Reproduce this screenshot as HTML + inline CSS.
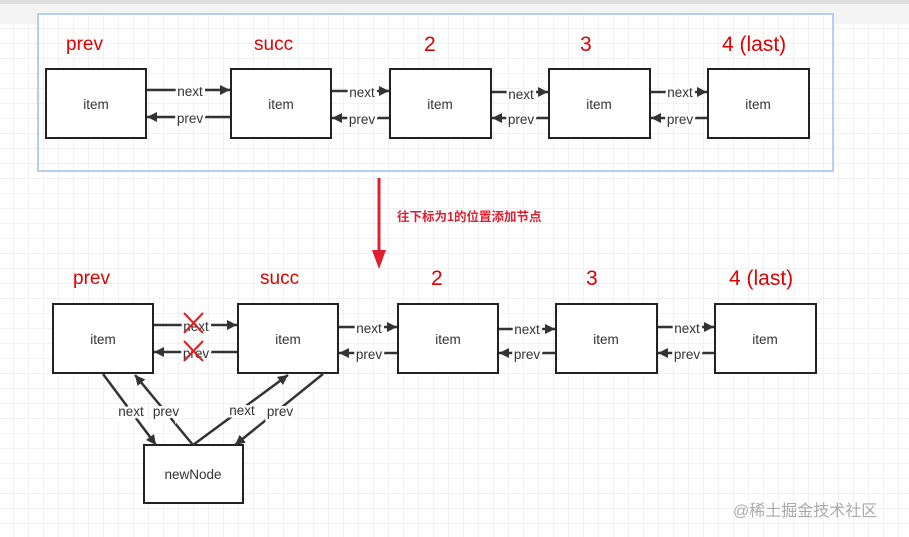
<!DOCTYPE html>
<html><head><meta charset="utf-8"><style>
html,body{margin:0;padding:0;background:#fff;}
svg{display:block;}
text{font-family:"Liberation Sans","Noto Sans CJK SC",sans-serif;}
</style></head><body>
<svg width="909" height="537" viewBox="0 0 909 537" xmlns="http://www.w3.org/2000/svg">
<defs>
<pattern id="g" x="13" y="13" width="15" height="15" patternUnits="userSpaceOnUse">
<path d="M0 0H15M0 0V15" stroke="#e6e6e6" stroke-width="1" fill="none"/>
</pattern>
<marker id="ab" viewBox="0 0 10 10" refX="10" refY="5" markerWidth="12" markerHeight="10" orient="auto" markerUnits="userSpaceOnUse">
<path d="M0 0L10 5L0 10z" fill="#333"/>
</marker>
</defs>
<rect width="909" height="537" fill="#fff"/>
<rect width="909" height="537" fill="url(#g)"/>
<rect x="0" y="0" width="909" height="4" fill="#dcdcdc"/>
<rect x="0" y="4" width="909" height="20" fill="#f3f3f3"/>
<rect x="39" y="15" width="795" height="157" fill="#dbe8fa"/>
<rect x="38" y="14" width="795" height="157" fill="#fff" stroke="#b4cff2" stroke-width="2"/>
<rect x="39" y="15" width="793" height="155" fill="url(#g)"/>

<g fill="#e00000" font-size="19">
<text x="66" y="50">prev</text><text x="254" y="50">succ</text><text x="424" y="51" font-size="21">2</text><text x="580" y="51" font-size="21">3</text><text x="722" y="51" font-size="21">4 (last)</text>
<text x="73" y="284">prev</text><text x="260" y="284">succ</text><text x="431" y="285" font-size="21">2</text><text x="586" y="285" font-size="21">3</text><text x="729" y="285" font-size="21">4 (last)</text>
</g>

<g fill="#fff" stroke="#222" stroke-width="2">
<rect x="46" y="69" width="100" height="69"/><rect x="231" y="69" width="100" height="69"/><rect x="390" y="69" width="101" height="69"/><rect x="549" y="69" width="101" height="69"/><rect x="708" y="69" width="101" height="69"/>
<rect x="53" y="304" width="100" height="69"/><rect x="238" y="304" width="100" height="69"/><rect x="398" y="304" width="100" height="69"/><rect x="556" y="304" width="101" height="69"/><rect x="715" y="304" width="101" height="69"/>
<rect x="144" y="445" width="99" height="58"/>
</g>
<g font-size="13.5" fill="#333" text-anchor="middle">
<text x="96" y="109">item</text><text x="281" y="109">item</text><text x="440" y="109">item</text><text x="599" y="109">item</text><text x="758" y="109">item</text>
<text x="103" y="344">item</text><text x="288" y="344">item</text><text x="448" y="344">item</text><text x="606" y="344">item</text><text x="765" y="344">item</text>
<text x="193" y="479">newNode</text>
</g>

<g stroke="#333" stroke-width="2.5" fill="none">
<line x1="147" y1="90" x2="230" y2="90" marker-end="url(#ab)"/>
<line x1="230" y1="117" x2="147" y2="117" marker-end="url(#ab)"/>
<line x1="332" y1="91" x2="389" y2="91" marker-end="url(#ab)"/>
<line x1="389" y1="118" x2="332" y2="118" marker-end="url(#ab)"/>
<line x1="492" y1="92" x2="548" y2="92" marker-end="url(#ab)"/>
<line x1="548" y1="118" x2="492" y2="118" marker-end="url(#ab)"/>
<line x1="651" y1="92" x2="707" y2="92" marker-end="url(#ab)"/>
<line x1="707" y1="118" x2="651" y2="118" marker-end="url(#ab)"/>

<line x1="154" y1="325" x2="237" y2="325" marker-end="url(#ab)"/>
<line x1="237" y1="352" x2="154" y2="352" marker-end="url(#ab)"/>
<line x1="339" y1="327" x2="397" y2="327" marker-end="url(#ab)"/>
<line x1="397" y1="353" x2="339" y2="353" marker-end="url(#ab)"/>
<line x1="499" y1="329" x2="555" y2="329" marker-end="url(#ab)"/>
<line x1="555" y1="353" x2="499" y2="353" marker-end="url(#ab)"/>
<line x1="658" y1="327" x2="714" y2="327" marker-end="url(#ab)"/>
<line x1="714" y1="353" x2="658" y2="353" marker-end="url(#ab)"/>

<line x1="103" y1="374" x2="156" y2="445" marker-end="url(#ab)"/>
<line x1="193" y1="445" x2="135" y2="375" marker-end="url(#ab)"/>
<line x1="193" y1="445" x2="288" y2="375" marker-end="url(#ab)"/>
<line x1="323" y1="374" x2="235" y2="445" marker-end="url(#ab)"/>
</g>

<g font-size="13.5" fill="#333" text-anchor="middle">
<g stroke="#fff" stroke-width="5" paint-order="stroke">
<text x="190" y="96">next</text><text x="190" y="123">prev</text>
<text x="362" y="97">next</text><text x="362" y="124">prev</text>
<text x="521" y="99">next</text><text x="521" y="124">prev</text>
<text x="680" y="97">next</text><text x="680" y="124">prev</text>
<text x="196" y="331">next</text><text x="196" y="358">prev</text>
<text x="369" y="333">next</text><text x="369" y="359">prev</text>
<text x="527" y="334">next</text><text x="527" y="359">prev</text>
<text x="687" y="333">next</text><text x="687" y="359">prev</text>
<text x="131" y="416">next</text><text x="166" y="416">prev</text>
<text x="242" y="415">next</text><text x="280" y="416">prev</text>
</g>
</g>

<g stroke="#e02020" stroke-width="2">
<line x1="184" y1="313" x2="203" y2="333"/><line x1="203" y1="313" x2="184" y2="333"/>
<line x1="184" y1="341" x2="203" y2="361"/><line x1="203" y1="341" x2="184" y2="361"/>
</g>

<line x1="379" y1="178" x2="379" y2="252" stroke="#e02030" stroke-width="3"/>
<path d="M372 250L379 269L386 250z" fill="#e02030"/>
<text x="397" y="221" font-size="12.5" font-weight="bold" fill="#e02030">往下标为1的位置添加节点</text>

<text x="733" y="516" font-size="16" fill="#aaa">@稀土掘金技术社区</text>
</svg>
</body></html>
